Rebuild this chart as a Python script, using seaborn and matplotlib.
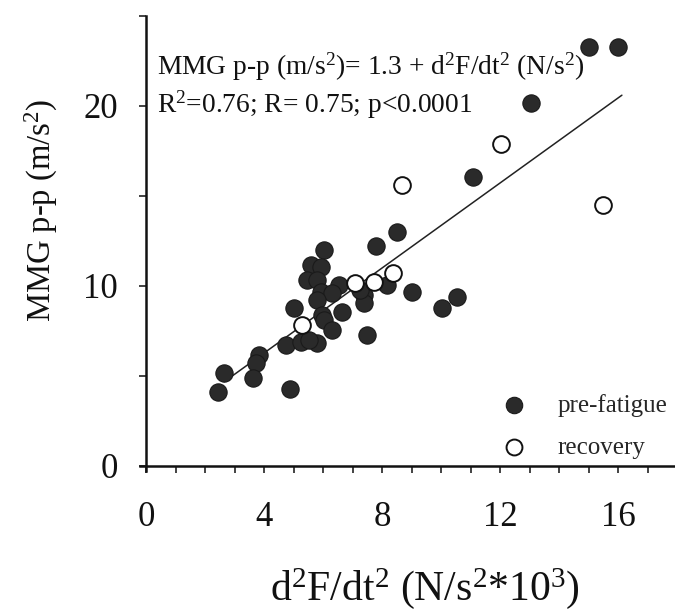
import matplotlib
matplotlib.use("Agg")
import matplotlib.pyplot as plt
import seaborn as sns
import pandas as pd
from matplotlib.ticker import MultipleLocator

sns.set_theme(style="ticks")
plt.rcParams['font.family'] = ['Liberation Serif', 'DejaVu Serif']
plt.rcParams['mathtext.fontset'] = 'custom'
plt.rcParams['mathtext.rm'] = 'Liberation Serif'
plt.rcParams['mathtext.it'] = 'Liberation Serif:italic'

# pre-fatigue data
pre_x = [15.03, 16.01, 13.05, 11.07, 8.51, 7.80, 6.03, 5.58, 5.92, 5.47, 5.81, 6.54,
         5.92, 6.32, 5.81, 5.02, 6.65, 5.98, 6.03, 6.32, 4.74, 5.24, 5.81, 5.52,
         3.83, 3.72, 3.61, 2.65, 2.43, 4.88, 7.38, 7.38, 8.18, 9.02, 10.54, 10.04,
         7.50, 7.27]
pre_y = [23.26, 23.26, 20.15, 16.07, 13.02, 12.22, 12.0, 11.17, 11.07, 10.33, 10.33, 10.06,
         9.69, 9.6, 9.22, 8.76, 8.57, 8.39, 8.11, 7.56, 6.72, 6.91, 6.82, 7.0,
         6.17, 5.7, 4.87, 5.15, 4.13, 4.26, 9.5, 9.04, 10.06, 9.69, 9.41, 8.76,
         7.28, 9.8]

# recovery data
rec_x = [12.04, 8.66, 15.50, 8.38, 7.72, 7.10, 5.30]
rec_y = [17.89, 15.6, 14.5, 10.7, 10.24, 10.19, 7.83]

# regression line endpoints
line_x = [2.65, 16.13]
line_y = [4.68, 20.6]

x_ticks = [0, 4, 8, 12, 16]
y_ticks = [0, 10, 20]

pre_df = pd.DataFrame({"x": pre_x, "y": pre_y})
rec_df = pd.DataFrame({"x": rec_x, "y": rec_y})
line_df = pd.DataFrame({"x": line_x, "y": line_y})

fig = plt.figure(figsize=(6.75, 6.13), dpi=100)
ax = fig.add_axes([146/675, 147/613, 529/675, 450/613])

sns.lineplot(data=line_df, x="x", y="y", ax=ax, color="#222222", linewidth=1.1,
             legend=False, zorder=1)
sns.scatterplot(data=pre_df, x="x", y="y", ax=ax, s=155, color="#2a2a2a",
                edgecolor="#1a1a1a", linewidth=0.8, label="pre-fatigue", zorder=2)
sns.scatterplot(data=rec_df, x="x", y="y", ax=ax, s=145, facecolor="white",
                edgecolor="#111111", linewidth=1.4, label="recovery", zorder=3)

ax.set_xlim(0, 17.93)
ax.set_ylim(0, 25)
ax.set_xticks(x_ticks)
ax.set_yticks(y_ticks)
ax.xaxis.set_minor_locator(MultipleLocator(1))
ax.yaxis.set_minor_locator(MultipleLocator(5))
ax.tick_params(axis='both', which='both', direction='out', length=5, width=1.2,
               color='#222222', labelsize=25, labelcolor='#111111')
ax.tick_params(axis='x', which='major', pad=20)
ax.tick_params(axis='y', which='major', pad=15)

for side in ['top', 'right']:
    ax.spines[side].set_visible(False)
for side in ['left', 'bottom']:
    ax.spines[side].set_linewidth(1.8)
    ax.spines[side].set_color('#111111')
ax.spines['bottom'].set_bounds(-0.2, 17.93)
ax.spines['left'].set_bounds(-0.3, 25)

ax.set_xlabel(r"d$^2$F/dt$^2$ (N/s$^2$*10$^3$)", fontsize=30, color='#111111')
ax.set_ylabel(r"MMG p-p (m/s$^2$)", fontsize=23.5, color='#111111')
ax.xaxis.set_label_coords(0.527, -0.222)
ax.yaxis.set_label_coords(-0.162, 0.569)

ax.text(0.02, 0.887, r"MMG p-p (m/s$^2$)= 1.3 + d$^2$F/dt$^2$ (N/s$^2$)",
        transform=ax.transAxes, fontsize=19.8, color='#111111', va='center', ha='left')
ax.text(0.02, 0.802, r"R$^2$=0.76; R= 0.75; p<0.0001",
        transform=ax.transAxes, fontsize=19.8, color='#111111', va='center', ha='left')

leg = ax.legend(loc='lower left', bbox_to_anchor=(0.629, -0.006), frameon=False,
                fontsize=18, handletextpad=0.75, labelspacing=0.78, borderaxespad=0,
                markerscale=0.95)

fig.savefig("out.png", dpi=100, facecolor='white')
